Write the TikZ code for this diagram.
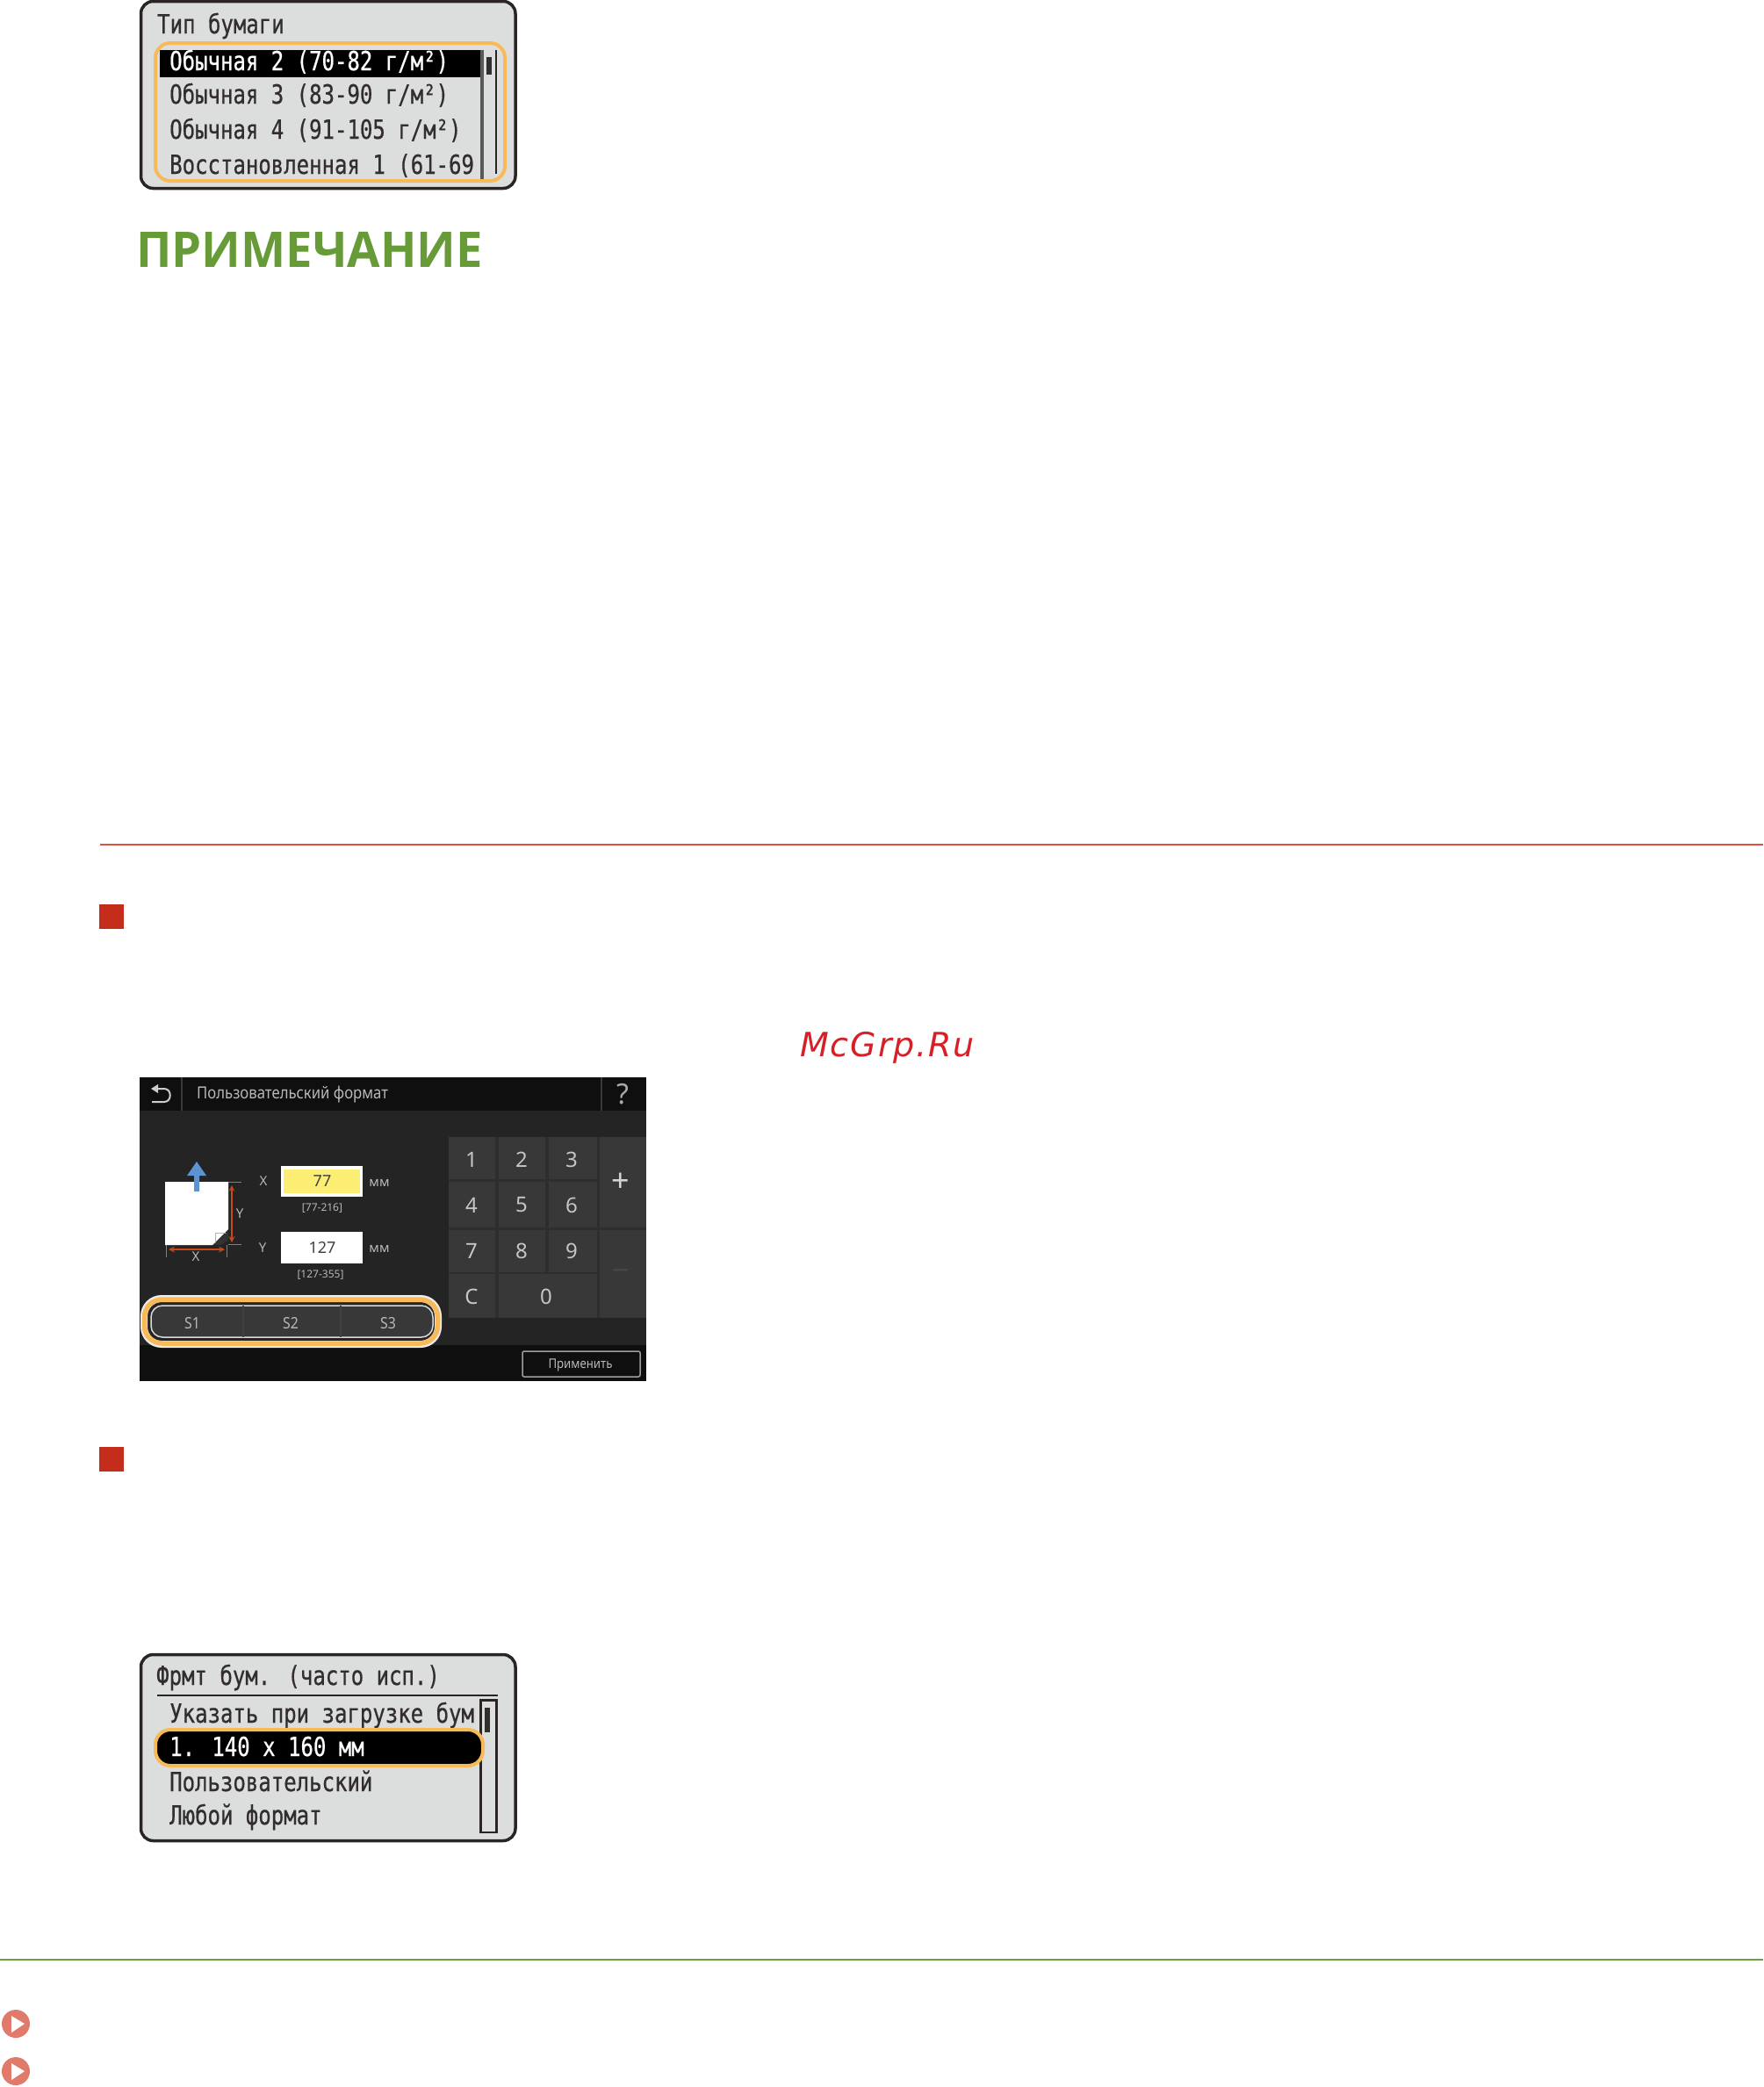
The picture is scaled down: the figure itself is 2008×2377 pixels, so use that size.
\documentclass[tikz,border=0pt]{standalone}
\usepackage{fontspec}
\setmainfont{Noto Sans}
\newfontfamily\lcdfont[FakeStretch=0.8,FakeBold=0.6]{DejaVu Sans Mono}
\newfontfamily\notefont[FakeStretch=0.97]{Open Sans}
\newfontfamily\markfont[LetterSpace=5]{DejaVu Sans}
\newfontfamily\uifont{Noto Sans}
\newfontfamily\uinarrow[FakeStretch=0.88]{Noto Sans}
\definecolor{lcdbg}{HTML}{DCDEDD}
\definecolor{lcdink}{HTML}{332E2E}
\definecolor{lcdedge}{HTML}{2A2523}
\definecolor{selorange}{HTML}{F8BA58}
\definecolor{notegreen}{HTML}{669B37}
\definecolor{redmark}{HTML}{C42C1C}
\definecolor{redrule}{HTML}{E0503F}
\definecolor{greenrule}{HTML}{6CA043}
\definecolor{linkred}{HTML}{E07A6A}
\definecolor{wmred}{HTML}{D62027}
\definecolor{panelbody}{HTML}{242424}
\definecolor{panelbar}{HTML}{0F0F0F}
\definecolor{keyfill}{HTML}{383838}
\definecolor{keygap}{HTML}{2E2E2E}
\definecolor{uitext}{HTML}{B8B8B8}
\definecolor{fieldyellow}{HTML}{FBEE72}
\definecolor{dimred}{HTML}{C8481A}
\definecolor{arrowblue}{HTML}{5B93D3}
\tikzset{
  lcdtext/.style={anchor=base west,inner sep=0pt,font=\lcdfont\fontsize{30}{30}\selectfont,text=lcdink},
  lcdsel/.style={lcdtext,text=white},
  lcdframe/.style={draw=lcdedge,line width=3.5pt,fill=lcdbg,rounded corners=14pt},
  orangebox/.style={draw=selorange,line width=4pt},
  keybox/.style={fill=keyfill},
  keylabel/.style={inner sep=0pt,font=\uifont\fontsize{24}{24}\selectfont,text=uitext!80!white},
  tinylabel/.style={inner sep=0pt,font=\uifont\fontsize{12}{12}\selectfont,text=uitext},
  smalllabel/.style={inner sep=0pt,font=\uifont\fontsize{15}{15}\selectfont,text=uitext},
  dimline/.style={draw=dimred,line width=2pt},
  tickline/.style={draw=gray,line width=1pt},
  linkdot/.style={circle,fill=linkred,minimum size=32pt,inner sep=0pt},
  redsquare/.style={fill=redmark},
  backarrow/.style={draw=uitext!70!white,line width=2pt},
}
\begin{document}
\begin{tikzpicture}[x=1pt,y=-1pt]
\useasboundingbox (0,0) rectangle (2008,2377);
\fill[white] (0,0) rectangle (2008,2377);

% ---------- first LCD ----------
\draw[lcdframe] (160.5,1.5) rectangle (587,214.5);
\node[lcdtext] (t1) at (179,38) {Тип бумаги};
\fill[black] (182,57) rectangle (548,88);
\draw[draw=gray!70!black,line width=4pt] (549,57) -- (549,204);
\draw[draw=lcdedge,line width=2.5pt] (565,57) -- (565,198);
\fill[lcdink] (554,65) rectangle (560,85);
\node[lcdsel] (a1) at (193,80) {Обычная 2 (70-82 г/м²)};
\node[lcdtext] (a2) at (193,118) {Обычная 3 (83-90 г/м²)};
\node[lcdtext] (a3) at (193,158) {Обычная 4 (91-105 г/м²)};
\node[lcdtext] (a4) at (193,198) {Восстановленная 1 (61-69};
\draw[orangebox,rounded corners=17pt] (177,49) rectangle (575,206);

% ---------- note heading ----------
\node[anchor=base west,inner sep=0pt,text=notegreen,font=\notefont\bfseries\fontsize{56}{56}\selectfont] (note) at (155,304) {ПРИМЕЧАНИЕ};

% ---------- rules and squares ----------
\draw[draw=redrule,line width=1.5pt] (114,962) -- (2008,962);
\fill[redsquare] (113,1030) rectangle (141,1058);
\fill[redsquare] (113,1648) rectangle (141,1676);

\node[anchor=base west,inner sep=0pt,text=wmred,font=\markfont\itshape\fontsize{38}{38}\selectfont] (mark) at (911,1203) {McGrp.Ru};

% ---------- touch panel ----------
\fill[panelbody] (159,1227) rectangle (736,1572.5);
\fill[panelbar] (159,1227) rectangle (736,1265);
\fill[panelbar] (159,1532) rectangle (736,1572.5);
\draw[draw=gray!45!black,line width=1.2pt] (207,1227) -- (207,1265);
\draw[draw=gray!45!black,line width=1.2pt] (685,1227) -- (685,1265);
% back arrow
\fill[uitext!70!white] (172,1240) -- (180,1235) -- (180,1245) -- cycle;
\draw[backarrow] (179,1240) -- (187,1240) .. controls (196,1240) and (196,1255) .. (187,1255) -- (173,1255);
\node[anchor=west,inner sep=0pt,text=uitext,font=\uinarrow\fontsize{19}{19}\selectfont] (ptitle) at (224,1247) {Пользовательский формат};
\node[inner sep=0pt,text=uitext!120!white,font=\uifont\fontsize{32}{32}\selectfont] (help) at (709,1246) {?};

% keypad
\fill[keygap] (511,1295) rectangle (736,1501);
\fill[keybox] (511,1295) rectangle (564,1343);
\fill[keybox] (568,1295) rectangle (621,1343);
\fill[keybox] (625,1295) rectangle (680,1343);
\fill[keybox] (511,1346) rectangle (564,1398);
\fill[keybox] (568,1346) rectangle (621,1398);
\fill[keybox] (625,1346) rectangle (680,1398);
\fill[keybox] (511,1401) rectangle (564,1449);
\fill[keybox] (568,1401) rectangle (621,1449);
\fill[keybox] (625,1401) rectangle (680,1449);
\fill[keybox] (511,1451) rectangle (564,1501);
\fill[keybox] (568,1451) rectangle (680,1501);
\fill[keybox] (683,1295) rectangle (736,1398);
\fill[keybox] (683,1401) rectangle (736,1501);
\node[keylabel] (k1) at (537,1320.5) {1};
\node[keylabel] (k2) at (594,1320.5) {2};
\node[keylabel] (k3) at (651,1320.5) {3};
\node[keylabel] (k4) at (537,1372.5) {4};
\node[keylabel] (k5) at (594,1372.5) {5};
\node[keylabel] (k6) at (651,1372.5) {6};
\node[keylabel] (k7) at (537,1424.5) {7};
\node[keylabel] (k8) at (594,1424.5) {8};
\node[keylabel] (k9) at (651,1424.5) {9};
\node[keylabel] (kc) at (537,1476.5) {C};
\node[keylabel] (k0) at (622,1476.5) {0};
\node[keylabel,font=\uifont\fontsize{36}{36}\selectfont,text=uitext!60!white] (kplus) at (707,1347) {+};
\node[keylabel,font=\uifont\fontsize{36}{36}\selectfont,text=gray!55!black] (kminus) at (707,1452) {−};

% paper icon
\fill[white] (188,1346) -- (260,1346) -- (260,1400) -- (242,1418) -- (188,1418) -- cycle;
\draw[draw=gray!60,line width=1pt] (245,1418) -- (245,1404) -- (260,1404);
\fill[black!80] (260,1402) -- (260,1412) -- (252,1418) -- (243,1418) -- cycle;
\fill[arrowblue] (224,1323) -- (235,1339) -- (227,1339) -- (227,1357) -- (221,1357) -- (221,1339) -- (213,1339) -- cycle;
\draw[tickline] (260,1346) -- (275,1346);
\draw[tickline] (260,1417) -- (275,1417);
\draw[tickline] (189,1418) -- (189,1432);
\draw[tickline] (258,1418) -- (258,1432);
\draw[dimline,<->,>=stealth] (264,1350) -- (264,1415);
\draw[dimline,<->,>=stealth] (192,1423) -- (256,1423);
\node[smalllabel] (lx1) at (223,1431) {X};
\node[smalllabel] (ly1) at (273,1382) {Y};
\node[smalllabel] (lx2) at (300,1345) {X};
\node[smalllabel] (ly2) at (299,1421) {Y};

% fields
\fill[white] (320,1328) rectangle (413,1363);
\fill[fieldyellow] (323,1332) rectangle (410,1359);
\fill[white] (320,1403) rectangle (413,1439);
\node[inner sep=0pt,text=black!75,font=\uifont\fontsize{18}{18}\selectfont] (fx) at (367,1345) {77};
\node[inner sep=0pt,text=black!75,font=\uifont\fontsize{18}{18}\selectfont] (fy) at (367,1421) {127};
\node[smalllabel] (mm1) at (432,1347) {мм};
\node[smalllabel] (mm2) at (432,1422) {мм};
\node[tinylabel] (rng1) at (367,1376) {[77-216]};
\node[tinylabel] (rng2) at (365,1452) {[127-355]};

% preset buttons
\draw[draw=white!85!gray,line width=8pt,rounded corners=20pt] (164,1479) rectangle (499,1531);
\draw[orangebox,line width=5.5pt,rounded corners=20pt] (164.5,1480) rectangle (498.5,1530);
\draw[draw=white!70!gray,fill=keyfill,line width=1.5pt,rounded corners=13pt] (172,1487) rectangle (493,1523);
\draw[draw=black!75,line width=1.2pt] (277,1487) -- (277,1523);
\draw[draw=black!75,line width=1.2pt] (388,1487) -- (388,1523);
\node[inner sep=0pt,text=uitext,font=\uinarrow\fontsize{18}{18}\selectfont] (s1) at (219,1507) {S1};
\node[inner sep=0pt,text=uitext,font=\uinarrow\fontsize{18}{18}\selectfont] (s2) at (331,1507) {S2};
\node[inner sep=0pt,text=uitext,font=\uinarrow\fontsize{18}{18}\selectfont] (s3) at (442,1507) {S3};

% apply
\draw[draw=gray!75,line width=1.5pt,rounded corners=2pt] (595,1539) rectangle (729,1568);
\node[smalllabel,font=\uinarrow\fontsize{15}{15}\selectfont] (apply) at (661,1555) {Применить};

% ---------- second LCD ----------
\draw[lcdframe] (160.5,1884.5) rectangle (587,2096.5);
\node[lcdtext] (t2) at (178,1919) {Фрмт бум. (часто исп.)};
\draw[draw=lcdedge,line width=2.5pt] (179,1931) -- (567,1931);
\draw[draw=lcdedge,line width=2.5pt] (547.5,1936.5) rectangle (565.5,2087);
\fill[lcdink] (552,1945) rectangle (558,1973);
\node[lcdtext] (b1) at (193,1962) {Указать при загрузке бум};
\draw[orangebox,fill=black,rounded corners=17pt] (177,1970) rectangle (550,2011);
\node[lcdsel] (b2) at (193,2000) {1. 140 x 160 мм};
\node[lcdtext] (b3) at (193,2040) {Пользовательский};
\node[lcdtext] (b4) at (193,2078) {Любой формат};

% ---------- footer ----------
\draw[draw=greenrule,line width=1.5pt] (0,2232) -- (2008,2232);
\node[linkdot] (l1) at (18,2305) {};
\node[linkdot] (l2) at (18,2359) {};
\fill[white] (13,2296) -- (28,2305) -- (13,2315) -- cycle;
\fill[white] (13,2350) -- (28,2359) -- (13,2369) -- cycle;
\end{tikzpicture}
\end{document}
